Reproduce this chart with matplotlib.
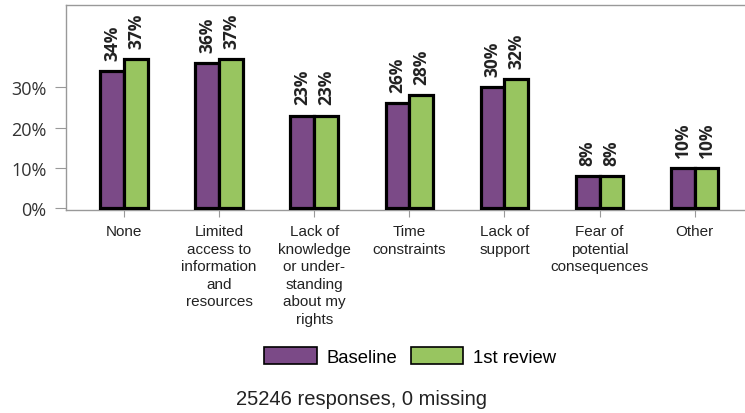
import matplotlib
matplotlib.use("Agg")
import matplotlib.pyplot as plt
import numpy as np
from matplotlib.patches import Patch

categories = ["None", "Limited\naccess to\ninformation\nand\nresources",
              "Lack of\nknowledge\nor under-\nstanding\nabout my\nrights",
              "Time\nconstraints", "Lack of\nsupport",
              "Fear of\npotential\nconsequences", "Other"]
baseline = [34, 36, 23, 26, 30, 8, 10]
review1 = [37, 37, 23, 28, 32, 8, 10]
series_names = ["Baseline", "1st review"]
yticks = [0, 10, 20, 30]

purple = "#7B4A87"
green = "#98C560"

plt.rcParams['font.family'] = ['Liberation Sans', 'DejaVu Sans']

fig = plt.figure(figsize=(7.45, 4.14), dpi=100)
ax = fig.add_axes([66/745, 1-211/414, (745-66)/745, (211-6)/414])

x = np.arange(len(categories))
w = 0.25
ax.bar(x - w/2, baseline, w, color=purple, edgecolor="black", linewidth=2.3, zorder=3)
ax.bar(x + w/2, review1, w, color=green, edgecolor="black", linewidth=2.3, zorder=3)

for xs, vals in ((x - w/2, baseline), (x + w/2, review1)):
    for xi, v in zip(xs, vals):
        ax.annotate(f"{v}%", (xi, v), xytext=(0, 8), textcoords="offset points",
                    rotation=90, ha="center", va="bottom",
                    fontsize=12.5, fontweight="bold", color="#222222",
                    family=['Open Sans', 'DejaVu Sans'])

ax.set_xlim(-0.61, 6.53)
ax.set_ylim(-0.4, 50.4)
ax.set_yticks(yticks)
ax.set_yticklabels([f"{t}%" for t in yticks], fontsize=13, color="#333333",
                   family=['Open Sans', 'DejaVu Sans'])
ax.set_xticks(x)
ax.set_xticklabels(categories, fontsize=11, color="#222222", linespacing=1.33, va="top")
for s in ax.spines.values():
    s.set_color("#999999")
    s.set_linewidth(1)
ax.spines["right"].set_visible(False)
ax.tick_params(axis="y", color="#999999", length=8, pad=6)
ax.tick_params(axis="x", color="#999999", length=5, pad=5)

handles = [Patch(facecolor=purple, edgecolor="black", linewidth=1.2),
           Patch(facecolor=green, edgecolor="black", linewidth=1.2)]
fig.legend(handles, series_names, loc="center", bbox_to_anchor=(410/745, 1-357.5/414),
           ncol=2, frameon=False, fontsize=13.3, handlelength=2.85, handleheight=1.0,
           columnspacing=0.75, handletextpad=0.5, borderaxespad=0, borderpad=0)

fig.text(361/745, 1-400/414, "25246 responses, 0 missing", ha="center", va="center",
         fontsize=14.5, color="#222222")

fig.savefig("out.png", dpi=100)
